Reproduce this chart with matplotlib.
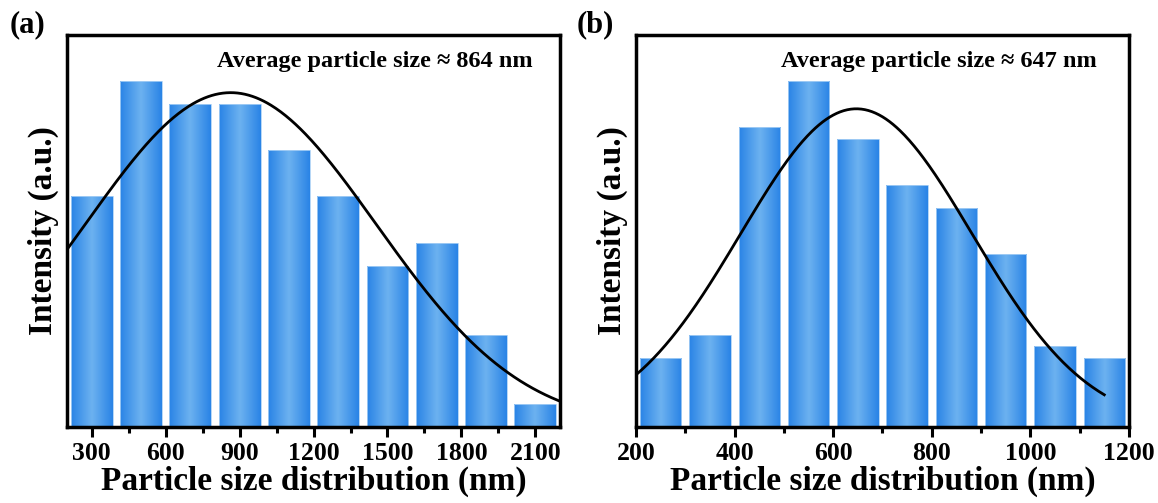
import numpy as np
import matplotlib
matplotlib.use("Agg")
import matplotlib.pyplot as plt
from matplotlib.colors import LinearSegmentedColormap

plt.rcParams['font.family'] = ['Liberation Serif', 'DejaVu Serif']
plt.rcParams['font.weight'] = 'bold'

# panel (a) data
a_centers = [300, 500, 700, 900, 1100, 1300, 1500, 1700, 1900, 2100]
a_counts = [10, 15, 14, 14, 12, 10, 7, 8, 4, 1]
a_fit = dict(amp=14.5, mu=864, sigma=590)  # gaussian fit
a_mean = 864

# panel (b) data
b_centers = [250, 350, 450, 550, 650, 750, 850, 950, 1050, 1150]
b_counts = [6, 8, 26, 30, 25, 21, 19, 15, 7, 6]
b_fit = dict(amp=27.6, mu=647, sigma=235)
b_mean = 647

bar_cmap = LinearSegmentedColormap.from_list(
    'barblue', ['#2a84e6', '#6db2f0', '#2a84e6'])


def gradient_bars(ax, centers, counts, width):
    bars = ax.bar(centers, counts, width=width, color='none',
                  edgecolor='#a9d0f5', linewidth=0.6, zorder=2)
    grad = np.linspace(0, 1, 64).reshape(1, -1)
    for b in bars:
        x0, y0 = b.get_x(), b.get_y()
        im = ax.imshow(grad, cmap=bar_cmap, aspect='auto', zorder=1,
                       extent=[x0, x0 + b.get_width(), y0, y0 + b.get_height()],
                       interpolation='bicubic')
        im.set_clip_path(b)


def style_axes(ax, xlim, ylim, major, minor):
    ax.set_xlim(*xlim)
    ax.set_ylim(*ylim)
    ax.set_xticks(major)
    ax.set_xticks(minor, minor=True)
    ax.set_yticks([])
    ax.tick_params(axis='x', which='major', direction='out', length=7,
                   width=2.2, labelsize=18.5, pad=4)
    ax.tick_params(axis='x', which='minor', direction='out', length=4,
                   width=2.2)
    for s in ax.spines.values():
        s.set_linewidth(2.5)
    ax.set_xlabel('Particle size distribution (nm)', fontsize=24,
                  fontweight='bold', labelpad=0)
    ax.set_ylabel('Intensity (a.u.)', fontsize=24, fontweight='bold',
                  labelpad=6)


fig = plt.figure(figsize=(11.58, 5.03), dpi=100)
ax1 = fig.add_axes([0.0579, 0.1511, 0.4257, 0.7793])
ax2 = fig.add_axes([0.5492, 0.1511, 0.4257, 0.7793])

# (a)
gradient_bars(ax1, a_centers, a_counts, 170)
xa = np.linspace(200, 2200, 400)
ax1.plot(xa, a_fit['amp'] * np.exp(-(xa - a_fit['mu']) ** 2 / (2 * a_fit['sigma'] ** 2)),
         color='black', lw=2, zorder=3)
style_axes(ax1, (200, 2200), (0, 17),
           [300, 600, 900, 1200, 1500, 1800, 2100],
           [450, 750, 1050, 1350, 1650, 1950])
ax1.text(0.945, 0.96, f'Average particle size \u2248 {a_mean} nm',
         transform=ax1.transAxes, ha='right', va='top', fontsize=17.5,
         fontweight='bold')

# (b)
gradient_bars(ax2, b_centers, b_counts, 84)
xb = np.linspace(200, 1150, 400)
ax2.plot(xb, b_fit['amp'] * np.exp(-(xb - b_fit['mu']) ** 2 / (2 * b_fit['sigma'] ** 2)),
         color='black', lw=2, zorder=3)
style_axes(ax2, (200, 1200), (0, 34),
           [200, 400, 600, 800, 1000, 1200],
           [300, 500, 700, 900, 1100])
ax2.text(0.935, 0.96, f'Average particle size \u2248 {b_mean} nm',
         transform=ax2.transAxes, ha='right', va='top', fontsize=17.5,
         fontweight='bold')

fig.text(0.008, 0.98, '(a)', fontsize=22, fontweight='bold', va='top')
fig.text(0.498, 0.98, '(b)', fontsize=22, fontweight='bold', va='top')

fig.savefig('out.png', dpi=100)
